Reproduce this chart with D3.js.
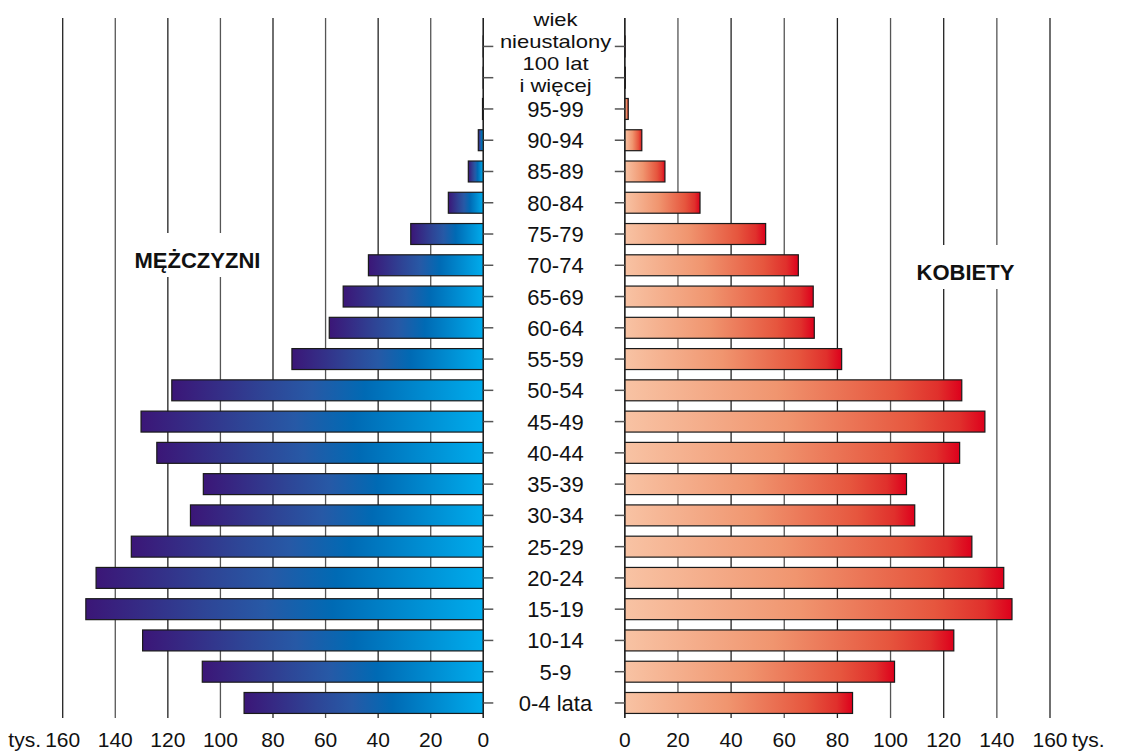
<!DOCTYPE html>
<html>
<head>
<meta charset="utf-8">
<script src="https://cdn.jsdelivr.net/npm/d3@7"></script>
<style>
  html, body { margin: 0; padding: 0; background: #fff; }
  svg { display: block; font-family: "Liberation Sans", Arial, sans-serif; }
</style>
</head>
<body>
<svg id="chart" width="1123" height="756"></svg>
<script>
// Age groups, bottom (youngest) to top; multi-line labels split by "|"
const ageGroups = ["0-4 lata","5-9","10-14","15-19","20-24","25-29","30-34","35-39","40-44","45-49",
  "50-54","55-59","60-64","65-69","70-74","75-79","80-84","85-89","90-94","95-99",
  "100 lat|i więcej","wiek|nieustalony"];
// values in thousands
const males   = [91.0,106.9,129.6,151.2,147.3,133.9,111.4,106.5,124.2,130.2,
  118.5,72.8,58.6,53.3,43.7,27.6,13.3,5.7,1.9,0.3,0.05,0.05];
const females = [85.7,101.5,123.8,145.7,142.6,130.6,109.1,106.0,126.0,135.5,
  126.8,81.6,71.3,70.9,65.3,53.0,28.3,15.1,6.4,1.3,0.2,0.1];
const tickValues = [0,20,40,60,80,100,120,140,160];
const unitLabel = "tys.";
const maleTitle = "MĘŻCZYZNI";
const femaleTitle = "KOBIETY";

const svg = d3.select("#chart");

const xL = d3.scaleLinear().domain([0,160]).range([483.3, 62.7]);
const xR = d3.scaleLinear().domain([0,160]).range([624.8, 1050]);
const y = d3.scaleBand().domain(ageGroups.slice().reverse())
  .range([30.8, 718.6]).paddingInner(0.33).paddingOuter(0.165);

const gridTop = 18, gridBottom = 718;

// gradients
const defs = svg.append("defs");
const gM = defs.append("linearGradient").attr("id","gradM").attr("x1","0").attr("x2","1").attr("y1","0").attr("y2","0");
[[0,"#3b1677"],[0.3,"#2e4596"],[0.45,"#2759a6"],[0.62,"#006ab4"],[1,"#00acec"]]
  .forEach(([o,c]) => gM.append("stop").attr("offset",o).attr("stop-color",c));
const gF = defs.append("linearGradient").attr("id","gradF").attr("x1","0").attr("x2","1").attr("y1","0").attr("y2","0");
[[0,"#f8c3a4"],[0.45,"#f0956f"],[0.8,"#e6563e"],[0.93,"#e0302c"],[1,"#dd001c"]]
  .forEach(([o,c]) => gF.append("stop").attr("offset",o).attr("stop-color",c));

// gridlines
const grid = svg.append("g");
tickValues.forEach(v => {
  grid.append("line").attr("x1",xL(v)).attr("x2",xL(v)).attr("y1",gridTop).attr("y2",gridBottom)
    .attr("stroke", v % 40 === 0 ? "#222" : "#555").attr("stroke-width",1.3);
  grid.append("line").attr("x1",xR(v)).attr("x2",xR(v)).attr("y1",gridTop).attr("y2",gridBottom)
    .attr("stroke", v % 40 === 0 ? "#222" : "#555").attr("stroke-width",1.3);
});

// series titles with white boxes
function title(txt, cx, baseline) {
  const t = svg.append("text").attr("x",cx).attr("y",baseline).attr("text-anchor","middle")
    .attr("font-size",22).attr("font-weight","bold").attr("fill","#111").text(txt);
  const bb = t.node().getBBox();
  svg.insert("rect", () => t.node()).attr("x",bb.x-6).attr("y",baseline-35)
    .attr("width",bb.width+12).attr("height",44).attr("fill","#fff");
}
title(maleTitle, 197.5, 268);
title(femaleTitle, 965.5, 280);

// bars
const rows = ageGroups.map((a,i) => ({a, m: males[i], f: females[i]}));
svg.append("g").selectAll("rect").data(rows).join("rect")
  .attr("x", d => xL(d.m)).attr("y", d => y(d.a))
  .attr("width", d => xL(0) - xL(d.m)).attr("height", y.bandwidth())
  .attr("fill","url(#gradM)").attr("stroke","#1a1a1a").attr("stroke-width",1.2);
svg.append("g").selectAll("rect").data(rows).join("rect")
  .attr("x", xR(0)).attr("y", d => y(d.a))
  .attr("width", d => xR(d.f) - xR(0)).attr("height", y.bandwidth())
  .attr("fill","url(#gradF)").attr("stroke","#1a1a1a").attr("stroke-width",1.2);

// axis lines at zero
svg.append("line").attr("x1",xL(0)).attr("x2",xL(0)).attr("y1",gridTop).attr("y2",gridBottom)
  .attr("stroke","#222").attr("stroke-width",1.3);
svg.append("line").attr("x1",xR(0)).attr("x2",xR(0)).attr("y1",gridTop).attr("y2",gridBottom)
  .attr("stroke","#222").attr("stroke-width",1.3);

// category ticks
const tk = svg.append("g");
ageGroups.forEach(a => {
  const cy = y(a) + y.bandwidth()/2;
  tk.append("line").attr("x1",xL(0)).attr("x2",xL(0)+10).attr("y1",cy).attr("y2",cy)
    .attr("stroke","#555").attr("stroke-width",1.5);
  tk.append("line").attr("x1",xR(0)-10).attr("x2",xR(0)).attr("y1",cy).attr("y2",cy)
    .attr("stroke","#555").attr("stroke-width",1.5);
});

// category labels
const cx = 555.5;
const lab = svg.append("g").attr("font-size",22).attr("fill","#111").attr("text-anchor","middle");
// multi-line labels form one stack at the top, tight leading
const stackLines = [];
ageGroups.forEach((a,i) => {
  const cy = y(a) + y.bandwidth()/2;
  const lines = a.split("|");
  if (lines.length === 1) {
    lab.append("text").attr("x",cx).attr("y",cy+8).text(a);
  } else {
    lines.forEach(l => stackLines.push(l));
  }
});
// stack is ordered bottom-to-top by category, top-to-bottom within a label
const ordered = [];
for (let i = ageGroups.length - 1; i >= 0; i--) {
  const lines = ageGroups[i].split("|");
  if (lines.length > 1) lines.forEach(l => ordered.push(l));
}
ordered.forEach((l,j) => {
  lab.append("text").attr("transform", `translate(${cx},${26 + j*22}) scale(1,0.87)`)
    .attr("x",0).attr("y",0).text(l);
});

// value axis labels
const ax = svg.append("g").attr("font-size",21).attr("fill","#111").attr("text-anchor","middle");
tickValues.forEach(v => {
  ax.append("text").attr("x",xL(v)).attr("y",747).text(v);
  ax.append("text").attr("x",xR(v)).attr("y",747).text(v);
});
ax.append("text").attr("x",41).attr("y",747).attr("text-anchor","end").text(unitLabel);
ax.append("text").attr("x",1072).attr("y",747).attr("text-anchor","start").text(unitLabel);
</script>
</body>
</html>
